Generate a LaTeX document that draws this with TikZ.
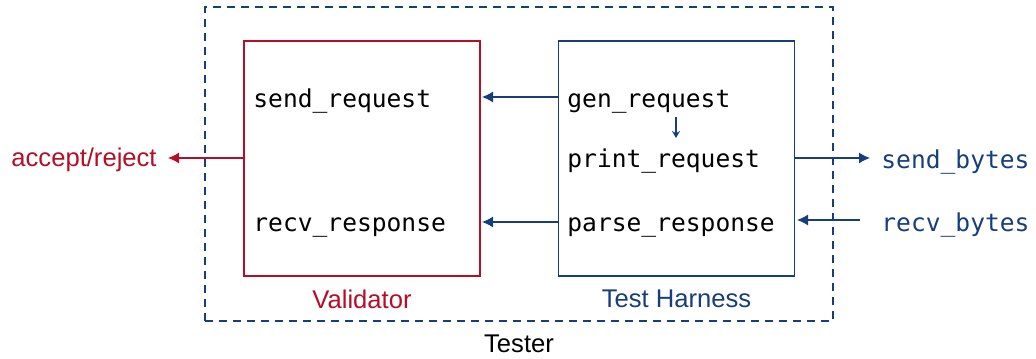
\documentclass[tikz,border=0pt]{standalone}
\usepackage{fontspec}
\setmainfont{Liberation Sans}
\setmonofont{DejaVu Sans Mono}
\usepackage{tikz}
\usetikzlibrary{calc,arrows.meta}
\definecolor{valred}{RGB}{180,14,40}
\definecolor{harnblue}{RGB}{22,62,124}

\begin{document}
\begin{tikzpicture}[x=0.5pt,y=0.5pt,font=\fontsize{12.8}{14}\selectfont,
  box/.style={draw,line width=0.6pt,minimum width=118pt,minimum height=117.5pt,inner sep=0pt},
  fn/.style={anchor=west,font=\fontsize{12.3}{14}\selectfont\ttfamily,inner sep=0pt},
  flow/.style={-{Latex[length=5.5pt,width=5.5pt]},line width=0.6pt}]
\def\cVal{valred}
\def\cHar{harnblue}
\useasboundingbox (0,0) rectangle (1036,358);
% outer tester box
\node[box,draw=\cHar,dashed,dash pattern=on 4pt off 3pt,minimum width=314pt,minimum height=157pt] (tester) at (519,194) {};
\node[anchor=center] (testerlbl) at (519,14) {Tester};
% validator
\node[box,draw=\cVal] (val) at (362,199.5) {};
\node[\cVal] (vallbl) at (362,59) {Validator};
\node[fn] (send) at (253,257) {send\_request};
\node[fn] (recv) at (253,130) {recv\_response};
% test harness
\node[box,draw=\cHar] (har) at (676.5,199.5) {};
\node[\cHar] (harlbl) at (676.5,59) {Test Harness};
\node[fn] (gen) at (567,256) {gen\_request};
\node[fn] (print) at (567,197) {print\_request};
\node[fn] (parse) at (567,130) {parse\_response};
% outside
\node[\cVal,anchor=east,inner sep=0pt] (verdict) at (157,198) {accept/reject};
\node[fn,\cHar] (sendb) at (881,196) {send\_bytes};
\node[fn,\cHar] (recvb) at (881,133) {recv\_bytes};
% arrows
\draw[flow,\cHar] (har.west |- 0,261) -- (482,261);
\draw[flow,\cHar] (har.west |- 0,136) -- (482,136);
\draw[flow,\cHar,-{Stealth[length=3.5pt,width=4pt]}] (676,241) -- (676,220);
\draw[flow,\cVal] (val.west |- 0,200) -- (168,200);
\draw[flow,\cHar] (har.east |- 0,200) -- (870,200);
\draw[flow,\cHar] (860,138) -- (797,138);
\end{tikzpicture}
\end{document}
